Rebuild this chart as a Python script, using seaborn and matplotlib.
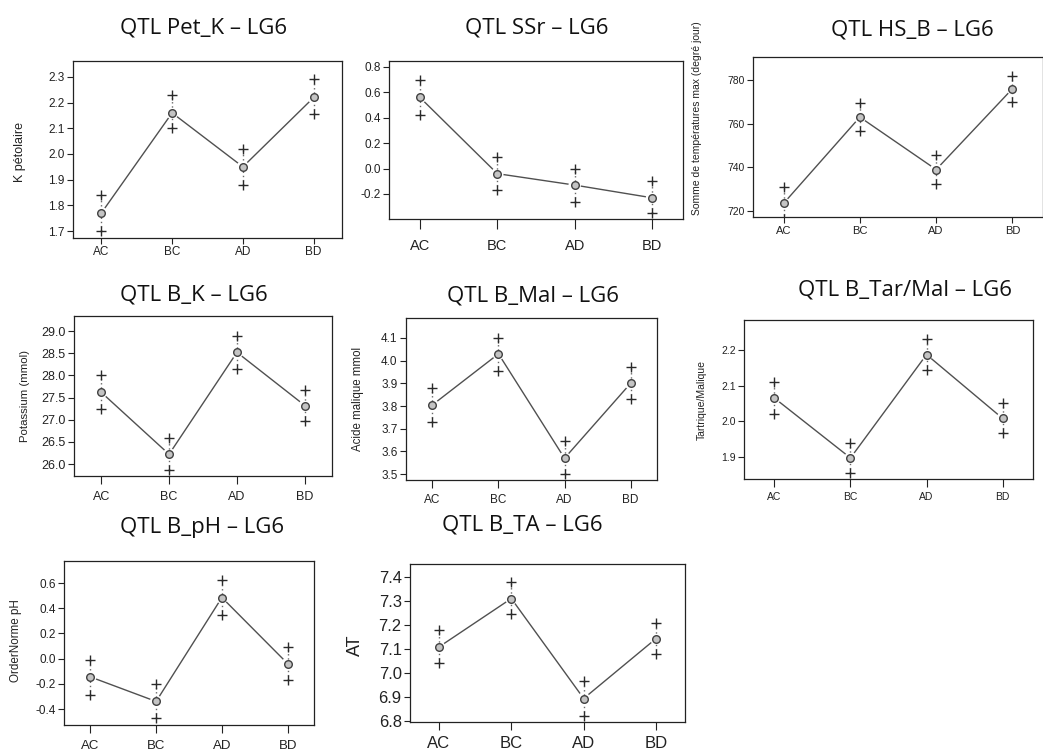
import matplotlib
matplotlib.use("Agg")
import matplotlib.pyplot as plt
import seaborn as sns
import pandas as pd

# genotype classes shared by every QTL panel
genotypes = ["AC", "BC", "AD", "BD"]

pet_k_mean = [1.77, 2.16, 1.95, 2.22]
pet_k_upper = [1.84, 2.23, 2.02, 2.29]
pet_k_lower = [1.70, 2.10, 1.88, 2.155]
pet_k_ticks = [1.7, 1.8, 1.9, 2.0, 2.1, 2.2, 2.3]

ssr_mean = [0.56, -0.04, -0.13, -0.23]
ssr_upper = [0.70, 0.09, 0.00, -0.10]
ssr_lower = [0.42, -0.17, -0.26, -0.35]
ssr_ticks = [-0.2, 0.0, 0.2, 0.4, 0.6, 0.8]

hs_b_mean = [723.5, 763.0, 739.0, 776.0]
hs_b_upper = [731.0, 769.5, 745.5, 782.0]
hs_b_lower = [716.5, 756.5, 732.5, 770.0]
hs_b_ticks = [720, 740, 760, 780]

b_k_mean = [27.62, 26.22, 28.52, 27.32]
b_k_upper = [28.00, 26.58, 28.88, 27.67]
b_k_lower = [27.25, 25.87, 28.15, 26.98]
b_k_ticks = [26.0, 26.5, 27.0, 27.5, 28.0, 28.5, 29.0]

b_mal_mean = [3.805, 4.03, 3.57, 3.90]
b_mal_upper = [3.88, 4.10, 3.645, 3.97]
b_mal_lower = [3.73, 3.955, 3.50, 3.83]
b_mal_ticks = [3.5, 3.6, 3.7, 3.8, 3.9, 4.0, 4.1]

tar_mal_mean = [2.065, 1.897, 2.187, 2.008]
tar_mal_upper = [2.11, 1.94, 2.23, 2.05]
tar_mal_lower = [2.02, 1.855, 2.145, 1.968]
tar_mal_ticks = [1.9, 2.0, 2.1, 2.2]

b_ph_mean = [-0.145, -0.34, 0.485, -0.04]
b_ph_upper = [-0.01, -0.205, 0.625, 0.09]
b_ph_lower = [-0.29, -0.475, 0.345, -0.17]
b_ph_ticks = [-0.4, -0.2, 0.0, 0.2, 0.4, 0.6]

b_ta_mean = [7.108, 7.31, 6.893, 7.143]
b_ta_upper = [7.178, 7.378, 6.965, 7.208]
b_ta_lower = [7.04, 7.245, 6.82, 7.078]
b_ta_ticks = [6.8, 6.9, 7.0, 7.1, 7.2, 7.3, 7.4]

W, H = 1043, 755
ARIAL = ["Liberation Sans", "DejaVu Sans"]
TITLE_FONT = ["Open Sans", "DejaVu Sans"]

# box = (left, top, right, bottom) in pixels; label sizes in points
panels = [
    dict(title="QTL Pet_K – LG6", title_xy=(204, 28), ylabel="K pétolaire", ylabel_xy=(20, 152),
         box=(73, 61, 342, 238), mean=pet_k_mean, upper=pet_k_upper, lower=pet_k_lower,
         ticks=pet_k_ticks, fmt="{:.1f}", ylim=(1.673, 2.362),
         ysize=8.5, xsize=8.5, lsize=9, xlen=4, xpad=1.5),
    dict(title="QTL SSr – LG6", title_xy=(537, 28), ylabel="", ylabel_xy=(0, 0),
         box=(389, 61, 683, 219), mean=ssr_mean, upper=ssr_upper, lower=ssr_lower,
         ticks=ssr_ticks, fmt="{:.1f}", ylim=(-0.397, 0.847),
         ysize=8.5, xsize=10.5, lsize=7, xlen=7.5, xpad=7),
    dict(title="QTL HS_B – LG6", title_xy=(912, 30), ylabel="Somme de températures max (degré jour)",
         ylabel_xy=(697, 118), box=(753, 57, 1043, 217), mean=hs_b_mean, upper=hs_b_upper,
         lower=hs_b_lower, ticks=hs_b_ticks, fmt="{:.0f}", ylim=(717.3, 790.5),
         ysize=7.5, xsize=8, lsize=7.5, xlen=4.5, xpad=2),
    dict(title="QTL B_K – LG6", title_xy=(194, 295), ylabel="Potassium (mmol)", ylabel_xy=(25, 396),
         box=(74, 316, 332, 476), mean=b_k_mean, upper=b_k_upper, lower=b_k_lower,
         ticks=b_k_ticks, fmt="{:.1f}", ylim=(25.73, 29.34),
         ysize=9, xsize=9, lsize=8.2, xlen=5.5, xpad=5),
    dict(title="QTL B_Mal – LG6", title_xy=(533, 296), ylabel="Acide malique mmol", ylabel_xy=(358, 399),
         box=(406, 318, 657, 480), mean=b_mal_mean, upper=b_mal_upper, lower=b_mal_lower,
         ticks=b_mal_ticks, fmt="{:.1f}", ylim=(3.474, 4.188),
         ysize=8.5, xsize=8.5, lsize=8.3, xlen=5.5, xpad=4.5),
    dict(title="QTL B_Tar/Mal – LG6", title_xy=(905, 290), ylabel="Tartrique/Malique",
         ylabel_xy=(702, 400), box=(744, 320, 1033, 479), mean=tar_mal_mean, upper=tar_mal_upper,
         lower=tar_mal_lower, ticks=tar_mal_ticks, fmt="{:.1f}", ylim=(1.838, 2.284),
         ysize=7.5, xsize=7.5, lsize=7.5, xlen=5.5, xpad=4.2),
    dict(title="QTL B_pH – LG6", title_xy=(202, 527), ylabel="OrderNorme pH", ylabel_xy=(16, 641),
         box=(64, 561, 314, 725), mean=b_ph_mean, upper=b_ph_upper, lower=b_ph_lower,
         ticks=b_ph_ticks, fmt="{:.1f}", ylim=(-0.527, 0.775),
         ysize=8.5, xsize=9.5, lsize=8.4, xlen=6, xpad=5),
    dict(title="QTL B_TA – LG6", title_xy=(522, 525), ylabel="AT", ylabel_xy=(355, 645),
         box=(410, 564, 685, 722), mean=b_ta_mean, upper=b_ta_upper, lower=b_ta_lower,
         ticks=b_ta_ticks, fmt="{:.1f}", ylim=(6.795, 7.454),
         ysize=12, xsize=12, lsize=13, xlen=6, xpad=4),
]


def draw_panel(fig, p):
    left, top, right, bottom = p["box"]
    ax = fig.add_axes([left / W, 1 - bottom / H, (right - left) / W, (bottom - top) / H])
    df = pd.DataFrame({"pos": range(len(genotypes)), "mean": p["mean"],
                       "upper": p["upper"], "lower": p["lower"]})

    sns.lineplot(data=df, x="pos", y="mean", color="#505050", linewidth=1.0, sort=False, ax=ax)
    # white halo so the line stops short of the point, like R's type="b"
    sns.scatterplot(data=df, x="pos", y="mean", marker="o", s=80, color="white",
                    edgecolor="none", ax=ax, zorder=3)
    ax.vlines(df["pos"], df["lower"], df["upper"], colors="#6a6a6a",
              linestyles=(0, (1, 2)), linewidth=1.0, zorder=4)
    for col in ["upper", "lower"]:
        sns.scatterplot(data=df, x="pos", y=col, marker="+", s=60, color="#2a2a2a",
                        linewidth=1.0, ax=ax, zorder=5)
    sns.scatterplot(data=df, x="pos", y="mean", marker="o", s=30, color="#c4c4c4",
                    edgecolor="#404040", linewidth=1.0, ax=ax, zorder=6)

    ax.set_xlim(-0.4, 3.4)
    ax.set_ylim(*p["ylim"])
    ax.set_xticks(df["pos"], labels=genotypes)
    ax.set_yticks(p["ticks"], labels=[p["fmt"].format(v) for v in p["ticks"]])
    ax.set_xlabel("")
    ax.set_ylabel("")
    ax.grid(False)
    for spine in ax.spines.values():
        spine.set_visible(True)
        spine.set_color("#222222")
        spine.set_linewidth(0.9)
    ax.tick_params(axis="x", length=p["xlen"], width=0.8, pad=p["xpad"],
                   labelsize=p["xsize"], colors="#222222")
    ax.tick_params(axis="y", length=4, width=0.8, pad=2, labelsize=p["ysize"], colors="#222222")

    fig.text(p["title_xy"][0] / W, 1 - p["title_xy"][1] / H, p["title"], family=TITLE_FONT,
             fontsize=16, ha="center", va="center", color="#111111")
    if p["ylabel"]:
        fig.text(p["ylabel_xy"][0] / W, 1 - p["ylabel_xy"][1] / H, p["ylabel"],
                 fontsize=p["lsize"], rotation=90, ha="center", va="center", color="#222222")


sns.set_style("ticks")
plt.rcParams["font.family"] = ARIAL

fig = plt.figure(figsize=(W / 100, H / 100), dpi=100)
fig.patch.set_facecolor("white")
for p in panels:
    draw_panel(fig, p)

fig.savefig("out.png", dpi=100, facecolor="white")
